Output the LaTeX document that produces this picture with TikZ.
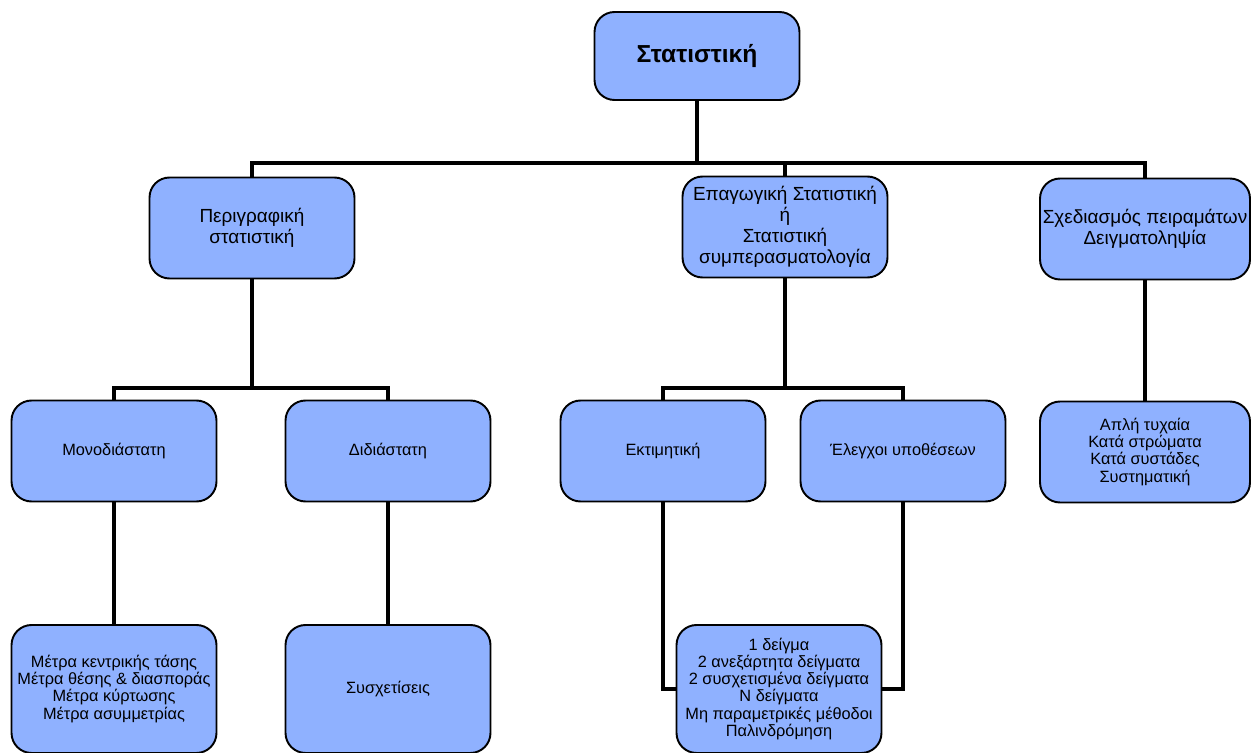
\documentclass[tikz,border=0pt]{standalone}
\usepackage{fontspec}
\setmainfont{Liberation Sans}
\usepackage{tikz}
\usetikzlibrary{positioning}
\definecolor{cajaAzul}{RGB}{143,177,255}

\begin{document}
\begin{tikzpicture}[x=0.02cm,y=-0.02cm]

    \tikzset{caja/.style = {shape=rectangle,draw,line width=1.1pt,rounded corners=0.4cm,fill=cajaAzul,align=center,minimum width=4.1cm,inner sep=1pt}}
    \tikzset{Raiz/.style = {caja,minimum height=1.76cm,font=\fontsize{14}{16}\selectfont\bfseries}}
    \tikzset{Nivel2/.style = {caja,minimum height=2.02cm,font=\fontsize{10.8}{11.9}\selectfont}}
    \tikzset{Nivel3/.style = {caja,minimum height=2.02cm,font=\fontsize{9.3}{10}\selectfont}}
    \tikzset{Nivel4/.style = {caja,minimum height=2.56cm,font=\fontsize{9.3}{9.7}\selectfont}}
    \tikzset{linea/.style = {line width=2.2pt}}

    \useasboundingbox (0,0) rectangle (1255,753);

    \node [Raiz] (estad) at (697,56) {Στατιστική};


    %primer nivel
    \node [Nivel2] (descr) at (252,228) {Περιγραφική\\ στατιστική};
    \node [Nivel2] (infer) at (785,227) {Επαγωγική Στατιστική\\ ή\\ Στατιστική\\ συμπερασματολογία};
    \node [Nivel2,minimum width=4.2cm] (disenio) at (1145,229) {Σχεδιασμός πειραμάτων\\ Δειγματοληψία};
    \coordinate (busA) at (697,163);
    \draw [linea] (estad) -- (busA);
    \draw [linea] (descr.north) |- (busA) -| (disenio.north);
    \draw [linea] (infer.north) -- (infer.north |- busA);


    %ramas de la descriptiva
    \node [Nivel3] (mono) at (114,451) {Μονοδιάστατη};
    \node [Nivel3] (bi) at (388,451) {Διδιάστατη};
    \coordinate (busB) at (252,388);
    \draw [linea] (descr) -- (busB);
    \draw [linea] (mono.north) |- (busB) -| (bi.north);


    %ramas de la inferencia
    \node [Nivel3] (estim) at (663,451) {Εκτιμητική};
    \node [Nivel3] (pruebas) at (903,451) {Έλεγχοι υποθέσεων};
    \coordinate (busC) at (785,388);
    \draw [linea] (infer) -- (busC);
    \draw [linea] (estim.north) |- (busC) -| (pruebas.north);


    %muestreo
    \node [Nivel3,minimum width=4.2cm,font=\fontsize{9.3}{9.7}\selectfont] (muestreo) at (1145,452) {Απλή τυχαία\\ Κατά στρώματα\\ Κατά συστάδες\\ Συστηματική};
    \draw [linea] (disenio) -- (muestreo);


    %ultimo nivel
    \node [Nivel4] (medidas) at (114,689) {Μέτρα κεντρικής τάσης\\ Μέτρα θέσης \& διασποράς\\ Μέτρα κύρτωσης\\ Μέτρα ασυμμετρίας};
    \draw [linea] (mono) -- (medidas);

    \node [Nivel4] (correl) at (388,689) {Συσχετίσεις};
    \draw [linea] (bi) -- (correl);

    \node [Nivel4] (muestras) at (779,689) {1 δείγμα\\ 2 ανεξάρτητα δείγματα\\ 2 συσχετισμένα δείγματα\\ Ν δείγματα\\ Μη παραμετρικές μέθοδοι\\ Παλινδρόμηση};
    \draw [linea] (estim.south) |- (muestras.west);
    \draw [linea] (pruebas.south) |- (muestras.east);

\end{tikzpicture}
\end{document}
